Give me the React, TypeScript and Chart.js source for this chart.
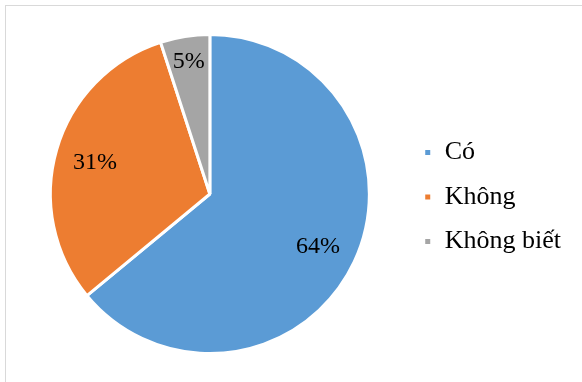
import React, { useEffect, useRef } from "react";
import { Chart, registerables } from "chart.js";

Chart.register(...registerables);

const categories = ["Có", "Không", "Không biết"];
const shares = [64, 31, 5];
const sliceColors = ["#5B9BD5", "#ED7D31", "#A5A5A5"];

const serif = '"Liberation Serif", "Times New Roman", serif';

// Writes each slice's percentage inside it; thin slices get their label pushed further out.
const percentLabels = {
  id: "percentLabels",
  afterDatasetsDraw(chart: any) {
    const { ctx } = chart;
    const meta = chart.getDatasetMeta(0);
    const data = chart.data.datasets[0].data as number[];
    const total = data.reduce((a, b) => a + b, 0);
    ctx.save();
    ctx.font = `24px ${serif}`;
    ctx.fillStyle = "#000";
    ctx.textAlign = "center";
    ctx.textBaseline = "middle";
    meta.data.forEach((arc: any, i: number) => {
      const { x, y, startAngle, endAngle, outerRadius } = arc.getProps(
        ["x", "y", "startAngle", "endAngle", "outerRadius"],
        true
      );
      const share = data[i] / total;
      const mid = (startAngle + endAngle) / 2;
      const r = outerRadius * (share < 0.1 ? 0.85 : 0.75);
      const text = `${Math.round(share * 100)}%`;
      ctx.fillText(text, x + Math.cos(mid) * r, y + Math.sin(mid) * r + 2);
    });
    ctx.restore();
  },
};

export default function App() {
  const canvasRef = useRef<HTMLCanvasElement | null>(null);

  useEffect(() => {
    if (!canvasRef.current) return;
    const chart = new Chart(canvasRef.current, {
      type: "pie",
      data: {
        labels: categories,
        datasets: [
          {
            data: shares,
            backgroundColor: sliceColors,
            borderColor: "#ffffff",
            borderWidth: 3,
          },
        ],
      },
      options: {
        animation: false,
        responsive: true,
        maintainAspectRatio: false,
        layout: { padding: { top: 33, bottom: 27, left: 14.5, right: 11 } },
        plugins: {
          tooltip: { enabled: false },
          legend: {
            position: "right",
            // empty title only nudges the legend rows down a little
            title: { display: true, text: "", font: { size: 1 }, padding: { top: 2.4, bottom: 2.4 } },
            labels: {
              boxWidth: 8,
              boxHeight: 8,
              padding: 18.5,
              color: "#000",
              font: { family: serif, size: 26 },
            },
          },
        },
      },
      plugins: [percentLabels],
    });
    return () => chart.destroy();
  }, []);

  return (
    <div
      style={{
        position: "absolute",
        left: 0,
        top: 0,
        width: 582,
        height: 382,
        overflow: "hidden",
        background: "#fff",
      }}
    >
      <div
        style={{
          position: "absolute",
          left: 5,
          top: 5,
          width: 700,
          height: 500,
          border: "1px solid #d9d9d9",
          boxSizing: "border-box",
        }}
      />
      <canvas
        ref={canvasRef}
        style={{ position: "absolute", left: 0, top: 0, width: 582, height: 382 }}
      />
    </div>
  );
}
